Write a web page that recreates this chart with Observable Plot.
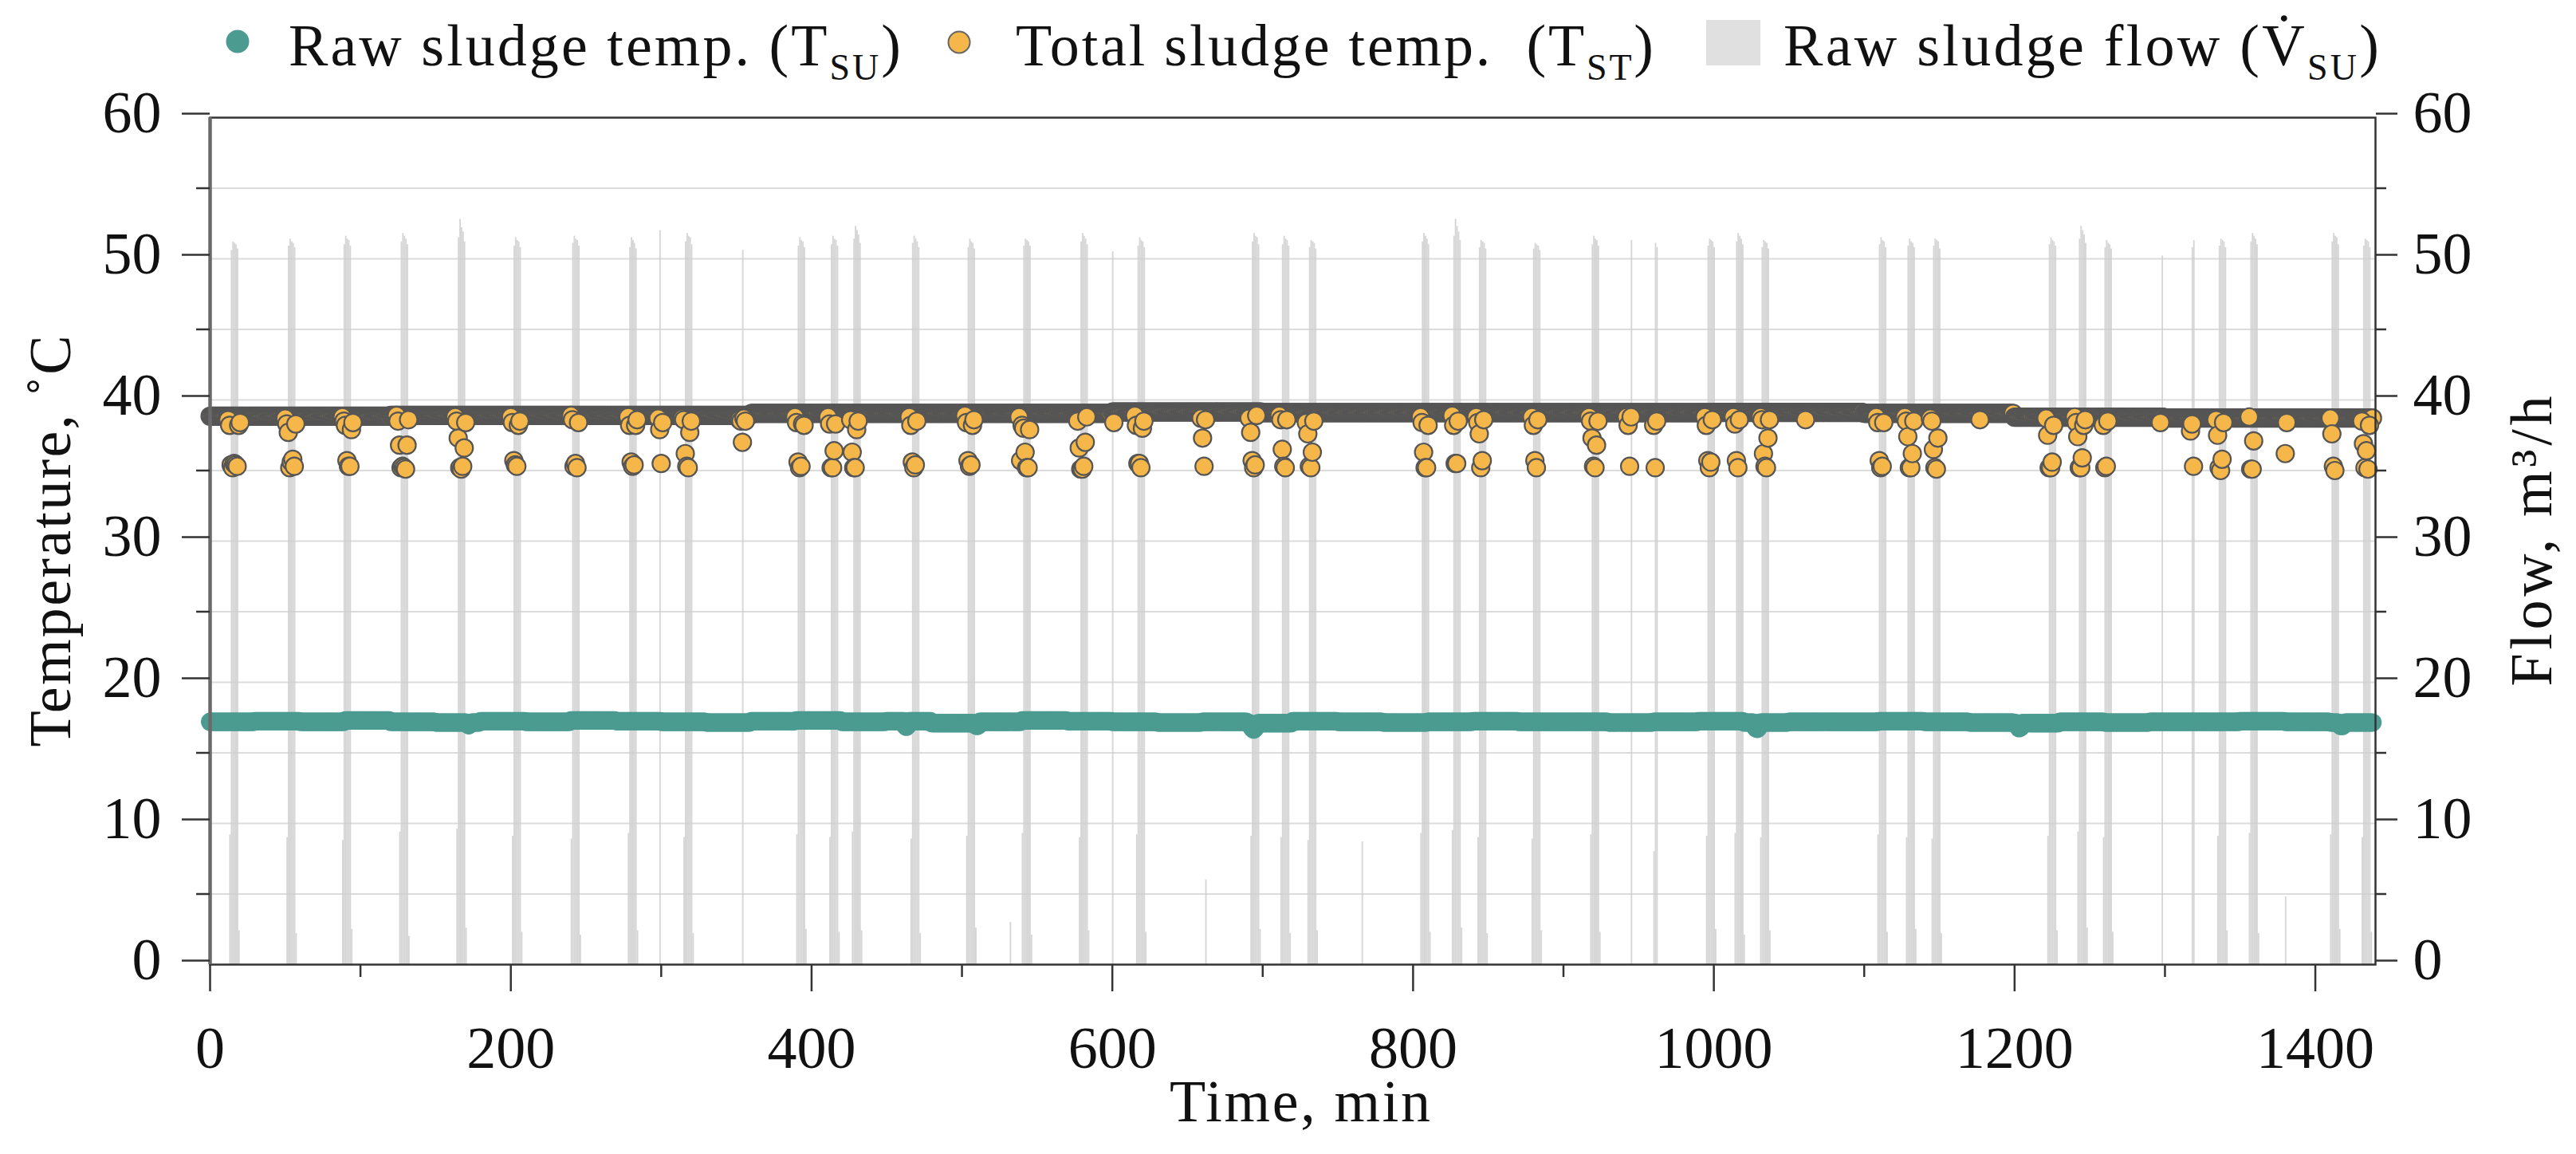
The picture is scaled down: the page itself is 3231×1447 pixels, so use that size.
<!DOCTYPE html>
<html>
<head>
<meta charset="utf-8">
<script src="https://cdn.jsdelivr.net/npm/d3@7"></script>
<script src="https://cdn.jsdelivr.net/npm/@observablehq/plot@0.6"></script>
<style>
  html, body { margin: 0; padding: 0; background: #fff; overflow: hidden; }
  #legend { display: block; }
  #chart svg { display: block; }
</style>
</head>
<body>
<svg id="legend" width="3231" height="112" xmlns="http://www.w3.org/2000/svg" font-family="Liberation Serif" font-size="74" fill="#111">
  <circle cx="298" cy="52" r="14.5" fill="#4b9b91"></circle>
  <text x="362" y="82" textLength="768" lengthAdjust="spacing">Raw sludge temp. (T<tspan dy="18" font-size="46">SU</tspan><tspan dy="-18">)</tspan></text>
  <circle cx="1203" cy="53" r="13.5" fill="#f6b74a" stroke="#666" stroke-width="2"></circle>
  <text x="1274" y="82" style="white-space:pre" textLength="800" lengthAdjust="spacing">Total sludge temp.  (T<tspan dy="18" font-size="46">ST</tspan><tspan dy="-18">)</tspan></text>
  <rect x="2140" y="25" width="68" height="57" fill="#e0e0e0"></rect>
  <text x="2237" y="82" textLength="747" lengthAdjust="spacing">Raw sludge flow (V&#x307;<tspan dy="18" font-size="46">SU</tspan><tspan dy="-18">)</tspan></text>
</svg>
<div id="chart"></div>
<script>
// ---- axis ticks ----
const xTicks = [0, 200, 400, 600, 800, 1000, 1200, 1400];
const xMinorTicks = [100, 300, 500, 700, 900, 1100, 1300];
const yTicks = [0, 10, 20, 30, 40, 50, 60];
const yMinorTicks = [5, 15, 25, 35, 45, 55];
const gridTicks = [5, 10, 15, 20, 25, 30, 35, 40, 45, 50, 55];

// ---- Raw sludge flow pulses: [start minute, per-minute flow values m3/h] ----
const flowPulses = [
  [13, [9.2, 50.6, 51.2, 51.1, 51.0, 50.7, 2.4]],
  [51, [9.0, 50.9, 51.4, 51.2, 51.1, 50.8, 2.2]],
  [88, [8.8, 51.0, 51.6, 51.4, 51.3, 50.9, 2.5]],
  [126, [9.4, 51.2, 51.8, 51.6, 51.4, 51.0, 2.0]],
  [164, [9.6, 51.5, 52.8, 52.2, 51.9, 51.2, 2.6]],
  [201, [9.1, 50.9, 51.5, 51.3, 51.2, 50.8, 2.3]],
  [240, [8.9, 51.1, 51.6, 51.4, 51.3, 50.9, 2.1]],
  [278, [9.3, 50.8, 51.5, 51.3, 51.1, 50.7, 2.4]],
  [299, [52.0]],
  [315, [9.0, 51.2, 51.8, 51.6, 51.5, 51.0, 2.2]],
  [354, [50.6]],
  [390, [9.2, 50.9, 51.5, 51.3, 51.2, 50.8, 2.5]],
  [412, [9.0, 51.0, 51.6, 51.4, 51.3, 50.9, 2.3]],
  [427, [9.4, 51.4, 52.3, 52.0, 51.7, 51.1, 2.4]],
  [466, [8.9, 51.1, 51.6, 51.4, 51.2, 50.8, 2.2]],
  [503, [9.1, 50.8, 51.4, 51.2, 51.1, 50.7, 2.6]],
  [532, [3.0]],
  [540, [9.3, 50.9, 51.4, 51.3, 51.2, 50.9, 2.1]],
  [578, [9.0, 51.2, 51.8, 51.6, 51.4, 51.0, 2.4]],
  [600, [50.5]],
  [616, [9.2, 50.9, 51.5, 51.3, 51.2, 50.8, 2.3]],
  [662, [6.0]],
  [692, [9.1, 51.2, 51.8, 51.6, 51.5, 51.0, 2.5]],
  [712, [9.0, 51.0, 51.6, 51.4, 51.3, 50.9, 2.2]],
  [730, [8.8, 50.8, 51.3, 51.2, 51.1, 50.7, 2.4]],
  [766, [8.7]],
  [805, [9.3, 51.2, 51.8, 51.6, 51.4, 51.0, 2.3]],
  [826, [9.5, 51.6, 52.8, 52.3, 51.9, 51.3, 2.6]],
  [843, [9.0, 50.8, 51.3, 51.2, 51.1, 50.7, 2.2]],
  [879, [8.9, 50.7, 51.1, 51.0, 50.9, 50.6, 2.4]],
  [918, [9.2, 51.0, 51.6, 51.4, 51.3, 50.9, 2.3]],
  [945, [51.3]],
  [960, [8.0, 51.1, 50.8]],
  [995, [9.1, 50.9, 51.4, 51.3, 51.2, 50.8, 2.5]],
  [1014, [9.3, 51.2, 51.8, 51.6, 51.4, 51.0, 2.1]],
  [1031, [9.0, 50.8, 51.3, 51.2, 51.1, 50.7, 2.4]],
  [1109, [9.2, 51.0, 51.5, 51.3, 51.2, 50.8, 2.3]],
  [1128, [9.0, 50.9, 51.4, 51.2, 51.1, 50.8, 2.5]],
  [1145, [8.9, 50.9, 51.4, 51.3, 51.2, 50.7, 2.2]],
  [1222, [9.1, 51.0, 51.5, 51.3, 51.2, 50.9, 2.4]],
  [1242, [9.4, 51.4, 52.3, 52.0, 51.7, 51.1, 2.6]],
  [1259, [9.0, 50.8, 51.3, 51.1, 51.0, 50.7, 2.3]],
  [1298, [50.2]],
  [1318, [50.8, 51.3]],
  [1335, [9.1, 50.9, 51.4, 51.3, 51.2, 50.8, 2.4]],
  [1356, [9.3, 51.2, 51.8, 51.6, 51.4, 51.0, 2.2]],
  [1380, [4.8]],
  [1410, [9.2, 51.2, 51.8, 51.6, 51.5, 51.0, 2.5]],
  [1431, [9.0, 50.9, 51.4, 51.3, 51.2, 50.8, 2.3]]
];

// ---- Total sludge temperature: baseline level per segment [from, to, °C] ----
const tstBaseline = [
  [0, 120, 38.85], [120, 360, 38.9], [360, 600, 39.05], [600, 700, 39.15],
  [700, 1000, 39.1], [1000, 1100, 39.12], [1100, 1200, 39.05],
  [1200, 1300, 38.78], [1300, 1439, 38.72]
];
// dips in total sludge temperature around each feed pulse: [start minute, values °C]
const tstDips = [
  [12, [38.6, 38.2, 35.4, 35.2, 35.5, 35.4, 35.3, 38.2, 38.4]],
  [50, [38.7, 38.3, 37.7, 35.2, 35.6, 35.8, 35.3, 38.3]],
  [88, [38.8, 38.5, 38.2, 35.7, 35.3, 35.3, 37.9, 38.4]],
  [124, [38.9, 38.5, 36.8, 35.2, 35.3, 35.2, 35.1, 36.8, 38.6]],
  [163, [38.8, 38.5, 37.3, 35.2, 35.1, 35.3, 36.6, 38.4]],
  [200, [38.8, 38.4, 35.7, 35.4, 35.3, 38.2, 38.5]],
  [240, [38.9, 38.6, 35.3, 35.5, 35.2, 38.4]],
  [278, [38.8, 38.2, 35.6, 35.3, 35.4, 38.2, 38.6]],
  [298, [38.7, 37.9, 35.5, 38.4]],
  [314, [38.7, 38.6, 36.2, 35.3, 35.2, 37.7, 38.5]],
  [352, [38.6, 38.5, 37.0, 38.7, 38.5]],
  [389, [38.8, 38.4, 35.6, 35.2, 35.3, 38.3, 38.2]],
  [411, [38.8, 38.3, 35.2, 35.2, 36.4, 38.3]],
  [426, [38.6, 36.3, 35.2, 35.2, 37.9, 38.5]],
  [465, [38.8, 38.2, 35.6, 35.2, 35.4, 38.5]],
  [502, [38.9, 38.4, 35.7, 35.3, 35.4, 38.2, 38.6]],
  [538, [38.8, 35.7, 38.2, 38.0, 36.3, 35.2, 35.2, 37.9]],
  [577, [38.5, 36.6, 35.1, 35.1, 35.3, 37.0, 38.8]],
  [601, [38.4]],
  [615, [38.9, 38.2, 35.5, 35.5, 35.2, 38.0, 38.5]],
  [659, [38.7, 37.3, 35.3, 38.6]],
  [691, [38.7, 37.7, 35.7, 35.2, 35.4, 38.9]],
  [711, [38.9, 38.6, 36.5, 35.3, 35.2, 38.6]],
  [729, [38.4, 37.6, 35.3, 35.2, 36.3, 38.5]],
  [805, [38.8, 38.4, 36.3, 35.2, 35.2, 38.2]],
  [826, [38.9, 38.2, 35.5, 35.5, 38.5]],
  [842, [38.8, 38.4, 37.6, 35.2, 35.7, 38.6]],
  [879, [38.8, 38.2, 35.7, 35.2, 38.6]],
  [917, [38.8, 38.5, 37.3, 35.3, 35.2, 36.8, 38.5]],
  [942, [38.8, 38.2, 35.3, 38.8]],
  [960, [38.2, 35.2, 38.5]],
  [994, [38.8, 38.2, 35.7, 35.2, 35.6, 38.6]],
  [1013, [38.8, 38.3, 35.7, 35.2, 38.6]],
  [1031, [38.8, 38.6, 36.2, 35.3, 35.2, 37.3, 38.6]],
  [1061, [38.6]],
  [1108, [38.8, 38.4, 35.7, 35.2, 35.3, 38.4]],
  [1127, [38.8, 38.5, 37.4, 35.2, 35.2, 36.2, 38.5]],
  [1144, [38.7, 38.5, 36.5, 35.2, 35.1, 37.3]],
  [1177, [38.6]],
  [1221, [38.7, 37.5, 35.2, 35.2, 35.6, 38.2]],
  [1240, [38.8, 38.4, 37.4, 35.2, 35.2, 35.9, 38.2, 38.6]],
  [1259, [38.2, 35.2, 35.3, 38.5]],
  [1297, [38.4]],
  [1317, [37.8, 38.3, 35.3]],
  [1334, [38.6, 37.5, 35.2, 35.0, 35.8, 38.4]],
  [1356, [38.8, 35.1, 35.1, 37.1]],
  [1380, [36.2, 38.4]],
  [1410, [38.7, 37.6, 35.3, 35.0]],
  [1431, [38.5, 36.9, 35.2, 36.4, 35.1, 38.2]]
];

// ---- Raw sludge temperature: level per 30-minute block (°C) ----
const tsuLevels = [17.2, 17.25, 17.2, 17.3, 17.2, 17.15, 17.25, 17.2, 17.3, 17.25, 17.2, 17.15,
  17.25, 17.3, 17.2, 17.25, 17.1, 17.2, 17.3, 17.25, 17.2, 17.15, 17.2, 17.1,
  17.25, 17.2, 17.15, 17.2, 17.25, 17.2, 17.2, 17.15, 17.2, 17.25, 17.15, 17.2,
  17.2, 17.25, 17.2, 17.15, 17.1, 17.2, 17.15, 17.2, 17.2, 17.25, 17.2, 17.15];
// short dips of raw sludge temperature [start minute, values °C]
const tsuDips = [
  [171, [17.05, 16.95, 17.05]],
  [462, [16.95, 16.85, 16.95]],
  [509, [16.95, 16.9, 16.95]],
  [692, [16.9, 16.75, 16.65, 16.75, 16.9]],
  [1027, [16.9, 16.75, 16.7, 16.85]],
  [1202, [16.9, 16.75, 16.8]],
  [1416, [17.0, 16.9, 16.9, 17.0]]
];

// ---- build tables ----
const lastMinute = 1439;
const flowRows = [];
for (const [s, vals] of flowPulses) vals.forEach((v, i) => flowRows.push({t1: s + i, t2: s + i + 1, v}));

const tstRows = [];
for (const [a, b, v] of tstBaseline) for (let t = a; t < b; t++) tstRows.push({t, v});
const tstDipRows = [];
for (const [s, vals] of tstDips) vals.forEach((v, i) => tstDipRows.push({t: s + i, v}));

const tsuRows = [];
for (let t = 0; t < lastMinute; t++) tsuRows.push({t, v: tsuLevels[Math.floor(t / 30)]});
for (const [s, vals] of tsuDips) vals.forEach((v, i) => { tsuRows[s + i].v = v; });

const teal = "#4b9b91", orange = "#f6b74a", dotStroke = "#555";
const fmt = d => String(d);

const chart = Plot.plot({
  width: 3231,
  height: 1335,
  marginTop: 35,
  marginBottom: 238,
  marginLeft: 263,
  marginRight: 252,
  style: {fontFamily: "Liberation Serif", fontSize: "74px", color: "#111", background: "#fff", overflow: "visible"},
  x: {domain: [0, 1440]},
  y: {domain: [0, 60]},
  marks: [
    Plot.ruleY(gridTicks, {stroke: "#dcdcdc", strokeWidth: 2}),
    Plot.rectY(flowRows, {x1: "t1", x2: "t2", y: "v", fill: "#cfcfcf", fillOpacity: 0.85}),
    Plot.dot(tsuRows, {x: "t", y: "v", r: 11.5, fill: teal}),
    Plot.dot(tstRows, {x: "t", y: "v", r: 11, fill: orange, stroke: dotStroke, strokeWidth: 2.2}),
    Plot.dot(tstDipRows, {x: "t", y: "v", r: 11, fill: orange, stroke: dotStroke, strokeWidth: 2.2}),
    Plot.frame({stroke: "#333", strokeWidth: 2.5}),
    Plot.ruleX([0], {stroke: "#6a6a6a", strokeWidth: 4.5}),
    Plot.axisY(yTicks, {anchor: "left", tickSize: 35, tickPadding: 26, label: null, stroke: "#333", strokeWidth: 2.5, dy: -5, tickFormat: fmt}),
    Plot.axisY(yMinorTicks, {anchor: "left", tickSize: 17, tickFormat: () => "", label: null, stroke: "#333", strokeWidth: 2.5}),
    Plot.axisY(yTicks, {anchor: "right", tickSize: 27, tickPadding: 20, label: null, stroke: "#333", strokeWidth: 2.5, dy: -5, tickFormat: fmt}),
    Plot.axisY(yMinorTicks, {anchor: "right", tickSize: 13, tickFormat: () => "", label: null, stroke: "#333", strokeWidth: 2.5}),
    Plot.axisX(xTicks, {anchor: "bottom", tickSize: 34, tickPadding: 43, label: null, stroke: "#333", strokeWidth: 2.5, tickFormat: fmt}),
    Plot.axisX(xMinorTicks, {anchor: "bottom", tickSize: 16, tickFormat: () => "", label: null, stroke: "#333", strokeWidth: 2.5}),
    Plot.text(["Temperature, \u02DAC"], {frameAnchor: "left", rotate: -90, textAnchor: "middle", lineAnchor: "bottom", dx: -176, fill: "#111"}),
    Plot.text(["Flow, m\u00B3/h"], {frameAnchor: "right", rotate: -90, textAnchor: "middle", lineAnchor: "bottom", dx: 220, fill: "#111"}),
    Plot.text(["Time, min"], {frameAnchor: "bottom", textAnchor: "middle", lineAnchor: "bottom", dy: 196, dx: 9, fill: "#111"})
  ]
});

const lengths = {"Temperature, \u02DAC": 516, "Flow, m\u00B3/h": 364, "Time, min": 327};
d3.select(chart).selectAll("text").each(function () {
  const L = lengths[this.textContent];
  if (L) { this.setAttribute("textLength", L); this.setAttribute("lengthAdjust", "spacing"); }
});

document.getElementById("chart").appendChild(chart);
</script>
</body>
</html>
